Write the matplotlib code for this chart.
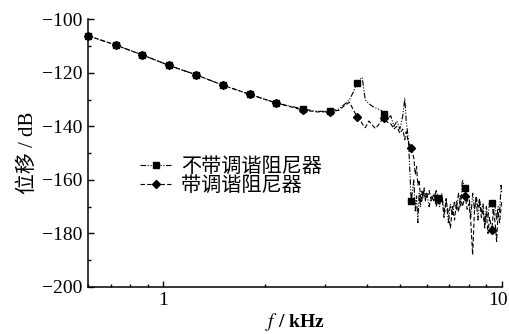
import numpy as np
import matplotlib
matplotlib.use("Agg")
import matplotlib.pyplot as plt
import matplotlib.transforms as mtransforms
from matplotlib.ticker import FixedLocator, NullFormatter

plt.rcParams['font.family'] = ['Liberation Serif', 'Noto Sans CJK SC']
plt.rcParams['mathtext.fontset'] = 'stix'

# frequency grid, kHz
freq = [0.6, 0.724, 0.869, 1.04, 1.25, 1.5, 1.8, 2.16, 2.59, 2.85, 3.11, 3.3,
        3.45, 3.55, 3.65, 3.74, 3.8, 3.87, 3.95, 4.05, 4.15, 4.23, 4.32, 4.4,
        4.5, 4.6, 4.7, 4.8, 4.9, 5.0, 5.1, 5.17, 5.22, 5.3, 5.4,
        5.5, 5.55, 5.6, 5.65, 5.7, 5.75, 5.8, 5.85, 5.9, 5.95, 6.0, 6.1, 6.2,
        6.3, 6.4, 6.48, 6.55, 6.65, 6.75, 6.85, 6.95, 7.05, 7.15, 7.25, 7.35,
        7.45, 7.55, 7.65, 7.8, 7.9, 8.0, 8.1, 8.2, 8.3, 8.4, 8.5, 8.6, 8.7,
        8.8, 8.9, 9.0, 9.1, 9.2, 9.34, 9.45, 9.55, 9.65, 9.75, 9.85, 9.95, 10.0]

# displacement without tuned damper, dB
no_damper = [-106.1, -109.6, -113.3, -117.2, -120.7, -124.6, -128.0, -131.3,
             -133.5, -134.4, -134.3, -133.5, -131.5, -130.0, -127.0, -123.7,
             -122.5, -121.7, -130.0, -131.5, -132.5, -133.0, -133.5, -134.0,
             -135.2, -137.0, -136.0, -140.0, -138.0, -141.0, -136.0, -129.5,
             -138.0, -145.0, -168.0,
             -160, -172, -166, -176, -165, -170, -164, -167, -163, -168, -165,
             -170, -166, -168, -164, -166.8, -170, -165, -172, -167, -176,
             -169, -173, -168, -171, -165, -170, -160, -163.2, -168, -166,
             -174, -165, -171, -167, -175, -168, -172, -169, -177, -170, -174,
             -168, -168.6, -173, -169, -175, -170, -172, -162, -165]

# displacement with tuned damper, dB
with_damper = [-106.1, -109.6, -113.3, -117.2, -120.7, -124.6, -128.0, -131.3,
               -133.9, -134.6, -134.5, -134.0, -132.0, -131.0, -134.0, -136.4,
               -137.0, -139.0, -140.5, -138.0, -139.5, -140.8, -139.5, -138.0,
               -137.0, -138.5, -139.0, -141.0, -140.0, -142.6, -141.0, -145.0,
               -142.0, -146.0, -148.0,
               -152, -158, -155, -162, -160, -166, -168, -164, -166, -165, -167,
               -164, -168, -165, -170, -167, -169, -166, -174, -168, -172,
               -178, -170, -175, -168, -172, -166, -170, -166, -171, -169,
               -176, -188, -172, -166, -170, -167, -174, -171, -178, -172, -180,
               -174, -178.8, -171, -176, -183, -172, -176, -170, -168]

# frequencies carrying symbols
marker_freq = [0.6, 0.724, 0.869, 1.04, 1.25, 1.5, 1.8, 2.16, 2.59, 3.11,
               3.74, 4.5, 5.4, 6.48, 7.8, 9.34]

labels = ['不带调谐阻尼器', '带调谐阻尼器']

f = np.array(freq)
mark_idx = [int(np.argmin(np.abs(f - m))) for m in marker_freq]

fig = plt.figure(figsize=(5.1, 3.34), dpi=100)
ax = fig.add_axes([0.1725, 0.141, 0.8115, 0.801])

ax.plot(f, no_damper, color='black', lw=0.8, linestyle=(0, (5, 1.5, 1, 1.5, 1, 1.5)),
        marker='s', ms=5, markevery=mark_idx, clip_on=False, label=labels[0])
ax.plot(f, with_damper, color='black', lw=0.8, linestyle=(0, (4, 2)),
        marker='D', ms=4.5, markevery=mark_idx, clip_on=False, label=labels[1])

ax.set_xscale('log')
ax.set_xlim(0.6, 10)
ax.set_ylim(-200, -100)
ax.set_xticks([1, 10])
ax.set_xticklabels(['1', '10'])
ax.xaxis.set_minor_locator(FixedLocator([0.6, 0.7, 0.8, 0.9, 2, 3, 4, 5, 6, 7, 8, 9]))
ax.xaxis.set_minor_formatter(NullFormatter())
ax.set_yticks([-200, -180, -160, -140, -120, -100])
ax.set_yticklabels(['\u2212200', '\u2212180', '\u2212160', '\u2212140', '\u2212120', '\u2212100'])
ax.yaxis.set_minor_locator(FixedLocator([-190, -170, -150, -130, -110]))

ax.tick_params(which='both', direction='in', labelsize=14, width=1, pad=4)
ax.tick_params(which='major', length=4)
ax.tick_params(which='minor', length=2.5)

# keep the "10" label inside the canvas
shift = mtransforms.ScaledTranslation(-4 / 100, 0, fig.dpi_scale_trans)
lab10 = ax.get_xticklabels()[1]
lab10.set_transform(lab10.get_transform() + shift)

for side in ('top', 'right'):
    ax.spines[side].set_visible(False)
for side in ('left', 'bottom'):
    ax.spines[side].set_linewidth(1.1)

ax.set_xlabel(r'$f$ / kHz', fontsize=14, fontweight='bold', labelpad=1)
ax.set_ylabel('位移 / dB', fontsize=15, labelpad=3)

ax.legend(loc='upper left', bbox_to_anchor=(140 / 510, 1 - 158 / 334),
          bbox_transform=fig.transFigure, frameon=False, fontsize=14.5,
          handlelength=1.55, handletextpad=0.5, labelspacing=0.0,
          borderpad=0, borderaxespad=0)

fig.savefig('out.png', dpi=100)
